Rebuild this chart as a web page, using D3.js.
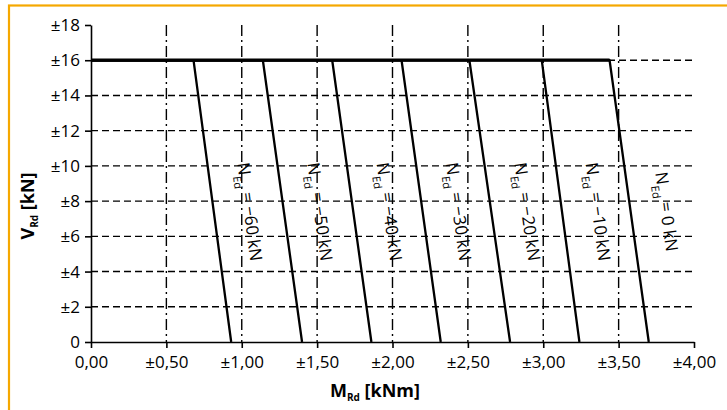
<!DOCTYPE html>
<html>
<head>
<meta charset="utf-8">
<script src="https://cdn.jsdelivr.net/npm/d3@7"></script>
<style>
  html, body { margin: 0; padding: 0; background: #fff; }
  svg { display: block; }
  text { font-family: "Open Sans", "Noto Sans", sans-serif; fill: #000; }
</style>
</head>
<body>
<svg id="chart" width="727" height="410"></svg>
<script>
// ---- data ----
const nLabels = ["\u221260", "\u221250", "\u221240", "\u221230", "\u221220", "\u221210", "0"];
const mTop    = [0.68, 1.14, 1.60, 2.06, 2.51, 2.99, 3.44];
const mBottom = [0.93, 1.40, 1.86, 2.32, 2.78, 3.24, 3.70];
const vMax = 16;
const xTicks = [0, 0.5, 1, 1.5, 2, 2.5, 3, 3.5, 4];
const xTickLabels = ["0,00", "\u00b10,50", "\u00b11,00", "\u00b11,50", "\u00b12,00", "\u00b12,50", "\u00b13,00", "\u00b13,50", "\u00b14,00"];
const yTicks = [0, 2, 4, 6, 8, 10, 12, 14, 16, 18];
const yTickLabels = ["0", "\u00b12", "\u00b14", "\u00b16", "\u00b18", "\u00b110", "\u00b112", "\u00b114", "\u00b116", "\u00b118"];
const labelV = 7.4;

// ---- layout ----
const svg = d3.select("#chart");
const x = d3.scaleLinear().domain([0, 4]).range([91, 694]);
const y = d3.scaleLinear().domain([0, 18]).range([342, 25]);

// border
svg.append("rect").attr("x", 9).attr("y", 5.5).attr("width", 730).attr("height", 420)
  .attr("fill", "none").attr("stroke", "#F5A800").attr("stroke-width", 2.2);

// gridlines
const grid = svg.append("g");
grid.selectAll("line.h").data(yTicks.filter(v => v > 0 && v < 18)).join("line")
  .attr("x1", x(0)).attr("x2", x(4)).attr("y1", d => y(d)).attr("y2", d => y(d))
  .attr("stroke", "#000").attr("stroke-width", 1.4).attr("stroke-dasharray", "7,4");
grid.selectAll("line.v").data(xTicks.filter(v => v > 0 && v < 4)).join("line")
  .attr("x1", d => x(d)).attr("x2", d => x(d)).attr("y1", y(18)).attr("y2", y(0))
  .attr("stroke", "#000").attr("stroke-width", 1.4).attr("stroke-dasharray", "11,4,2,4");

// axes
const xAxis = d3.axisBottom(x).tickValues(xTicks).tickFormat((d, i) => xTickLabels[i]).tickSize(6).tickSizeOuter(0).tickPadding(4);
const yAxis = d3.axisLeft(y).tickValues(yTicks).tickFormat((d, i) => yTickLabels[i]).tickSize(6).tickSizeOuter(0).tickPadding(5);
const gx = svg.append("g").attr("transform", `translate(0,${y(0)})`).call(xAxis);
const gy = svg.append("g").attr("transform", `translate(${x(0)},0)`).call(yAxis);
[gx, gy].forEach(g => {
  g.select(".domain").attr("stroke", "#000").attr("stroke-width", 1.6);
  g.selectAll(".tick line").attr("stroke", "#000").attr("stroke-width", 1.6);
  g.selectAll(".tick text").style("font-family", "'Open Sans', sans-serif").style("font-size", "17px").attr("fill", "#000");
});
gx.selectAll(".tick text").attr("dy", "0.95em");

// curves
const line = d3.line().x(d => x(d[0])).y(d => y(d[1]));
const curves = mTop.map((t, i) => [[0, vMax], [t, vMax], [mBottom[i], 0]]);
svg.append("line").attr("x1", x(0)).attr("x2", x(d3.max(mTop))).attr("y1", y(vMax)).attr("y2", y(vMax))
  .attr("stroke", "#000").attr("stroke-width", 3.2);
svg.selectAll("path.curve").data(curves).join("path").attr("class", "curve")
  .attr("d", line).attr("fill", "none").attr("stroke", "#000").attr("stroke-width", 2.3)
  .attr("stroke-linejoin", "round");

// curve labels
mTop.forEach((t, i) => {
  const b = mBottom[i];
  const f = (vMax - labelV) / vMax;
  const cx = x(t + (b - t) * f) + 36;
  const cy = y(labelV);
  const ang = Math.atan2(y(0) - y(vMax), x(b) - x(t)) * 180 / Math.PI;
  const tx = svg.append("text").attr("transform", `translate(${cx},${cy}) rotate(${ang})`)
    .attr("text-anchor", "middle").attr("dy", "0.35em").style("font-size", "17px");
  tx.append("tspan").text("N");
  tx.append("tspan").text("Ed").style("font-size", "11px").attr("dy", 6);
  tx.append("tspan").text(" = " + nLabels[i] + " kN").attr("dy", -6);
});

// axis titles
const xt = svg.append("text").attr("x", 375).attr("y", 397)
  .attr("text-anchor", "middle").style("font-size", "18px").style("font-weight", "bold");
xt.append("tspan").text("M");
xt.append("tspan").text("Rd").style("font-size", "10px").attr("dy", 4);
xt.append("tspan").text(" [kNm]").attr("dy", -4);

const yt = svg.append("text").attr("transform", `translate(34,206) rotate(-90)`)
  .attr("text-anchor", "middle").style("font-size", "18px").style("font-weight", "bold");
yt.append("tspan").text("V");
yt.append("tspan").text("Rd").style("font-size", "10px").attr("dy", 4);
yt.append("tspan").text(" [kN]").attr("dy", -4);
</script>
</body>
</html>
